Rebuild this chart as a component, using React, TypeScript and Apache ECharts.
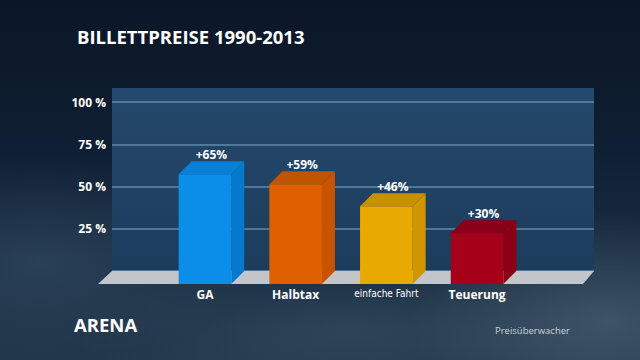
import React, { useEffect, useRef } from 'react';
import * as echarts from 'echarts';

// ---- data ----
const categories = ['GA', 'Halbtax', 'einfache Fahrt', 'Teuerung'];
const increases = [65, 59, 46, 30];
const valueLabels = ['+65%', '+59%', '+46%', '+30%'];
const yTickValues = [25, 50, 75, 100];
const titleText = 'BILLETTPREISE 1990-2013';
const brandText = 'ARENA';
const sourceText = 'Preisüberwacher';

// ---- styles ----
const FRONT = ['#0a8ee8', '#e05f00', '#e8a900', '#a6001b'];
const SIDE = ['#0679cc', '#c85300', '#d09600', '#8c0016'];
const TOPC = ['#0780d6', '#c05400', '#c79000', '#890018'];
const FONT = '"Open Sans", "Noto Sans", sans-serif';
const DEPTH = 13;

export default function App() {
  const ref = useRef<HTMLDivElement>(null);
  useEffect(() => {
    if (!ref.current) return;
    const chart = echarts.init(ref.current, undefined, { renderer: 'svg' });
    const option: any = {
      animation: false,
      backgroundColor: 'transparent',
      grid: [
        // panel background
        { left: 112, right: 46, top: 88, bottom: 89, show: true, borderWidth: 0,
          backgroundColor: new echarts.graphic.LinearGradient(0, 0, 0, 1, [
            { offset: 0, color: '#25496c' },
            { offset: 1, color: '#1c3c5c' },
          ]) },
        // value axis + split lines + floor
        { left: 112, right: 46, top: 102, bottom: 89 },
        // bars
        { left: 159.6, right: 117.6, top: 102, bottom: 89 },
      ],
      xAxis: [
        { gridIndex: 0, type: 'value', show: false, min: 0, max: 1 },
        { gridIndex: 1, type: 'value', show: false, min: 0, max: 1 },
        { gridIndex: 2, type: 'category', data: categories,
          axisLine: { show: false }, axisTick: { show: false },
          axisLabel: {
            interval: 0, hideOverlap: false,
            margin: 17, color: '#ffffff', fontFamily: FONT, fontWeight: 'bold', fontSize: 12,
            formatter: (v: string) => (v === 'einfache Fahrt' ? '{c|' + v + '}' : v),
            rich: { c: { fontFamily: '"DejaVu Sans Condensed", sans-serif', fontSize: 10, color: '#ffffff', fontWeight: 'normal' } },
          } },
      ],
      yAxis: [
        { gridIndex: 0, type: 'value', show: false, min: 0, max: 1 },
        { gridIndex: 1, type: 'value', min: 0, max: 100, interval: 25,
          axisLine: { show: false }, axisTick: { show: false },
          axisLabel: { margin: 6, color: '#ffffff', fontFamily: FONT, fontWeight: 'bold', fontSize: 12,
            formatter: (v: number) => (yTickValues.includes(v) ? v + ' %' : '') },
          splitLine: { show: true, lineStyle: { color: 'rgba(120,160,195,0.75)', width: 1.5 } } },
        { gridIndex: 2, type: 'value', show: false, min: 0, max: 100 },
      ],
      series: [
        {
          type: 'custom', xAxisIndex: 1, yAxisIndex: 1, z: 1,
          data: [[0, 0, 1]],
          renderItem: (_p: any, api: any) => {
            const l = api.coord([api.value(0), api.value(1)]);
            const r = api.coord([api.value(2), api.value(1)]);
            return {
              type: 'polygon',
              shape: { points: [[l[0], l[1]], [r[0], r[1]], [r[0] - 11, r[1] + DEPTH], [l[0] - 14, l[1] + DEPTH]] },
              style: { fill: '#c2c6cb' },
            };
          },
        },
        {
          type: 'custom', xAxisIndex: 2, yAxisIndex: 2, z: 3,
          data: increases.map((v, i) => [i, v]),
          renderItem: (params: any, api: any) => {
            const i = params.dataIndex;
            const top = api.coord([api.value(0), api.value(1)]);
            const base = api.coord([api.value(0), 0]);
            const band = api.size([1, 0])[0];
            const w = band * 0.58;
            const d = DEPTH;
            const x0 = top[0] - w / 2;
            const x1 = top[0] + w / 2;
            const yt = top[1] + d;
            const yb = base[1] + d;
            return {
              type: 'group',
              children: [
                { type: 'polygon', shape: { points: [[x1, yt], [x1 + d, yt - d], [x1 + d, yb - d], [x1, yb]] }, style: { fill: SIDE[i] } },
                { type: 'rect', shape: { x: x0, y: yt, width: w, height: yb - yt }, style: { fill: FRONT[i] } },
                { type: 'polygon', shape: { points: [[x0, yt], [x0 + d, yt - d], [x1 + d, yt - d], [x1, yt]] }, style: { fill: TOPC[i] } },
                { type: 'text', x: top[0] + d / 2, y: top[1] - 1,
                  style: { text: valueLabels[i], fill: '#ffffff', fontFamily: FONT, fontWeight: 'bold', fontSize: 12, align: 'center', verticalAlign: 'bottom' } },
              ],
            };
          },
        },
      ],
      graphic: [
        { type: 'text', left: 77, top: 27, style: { text: titleText, fill: '#ffffff', fontFamily: FONT, fontWeight: 'bold', fontSize: 18.5 } },
        { type: 'text', left: 74, top: 315, style: { text: brandText, fill: '#ffffff', fontFamily: FONT, fontWeight: 'bold', fontSize: 18.5 } },
        { type: 'text', left: 495, top: 325, style: { text: sourceText, fill: '#c9d2da', fontFamily: FONT, fontSize: 9.5 } },
      ],
    };
    chart.setOption(option);
    return () => chart.dispose();
  }, []);
  return (
    <div
      ref={ref}
      style={{
        position: 'fixed', left: 0, top: 0, width: 640, height: 360,
        background:
          'radial-gradient(ellipse 200px 110px at 610px 320px, rgba(110,130,150,0.4), rgba(110,130,150,0) 100%),' +
          'radial-gradient(ellipse 220px 100px at 40px 260px, rgba(80,110,140,0.3), rgba(80,110,140,0) 100%),' +
          'radial-gradient(ellipse 280px 70px at 350px 330px, rgba(90,115,140,0.25), rgba(90,115,140,0) 100%),' +
          'linear-gradient(180deg, #0b1727 0%, #0e1d30 35%, #16293e 65%, #223749 100%)',
      }}
    />
  );
}
